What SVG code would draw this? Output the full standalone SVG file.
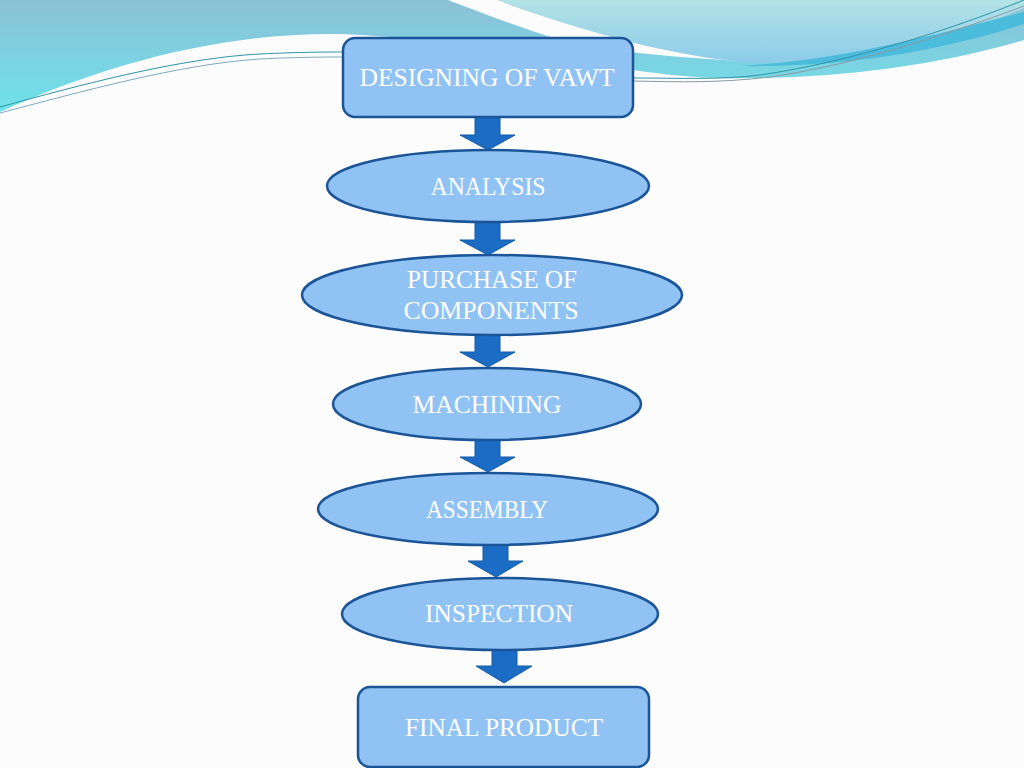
<svg xmlns="http://www.w3.org/2000/svg" width="1024" height="768" viewBox="0 0 1024 768">
<defs>
<linearGradient id="gLeft" x1="0" y1="0" x2="0" y2="1">
<stop offset="0" stop-color="#8cc0d6"/>
<stop offset="1" stop-color="#6ee2ea"/>
</linearGradient>
<linearGradient id="gRight" x1="0" y1="0" x2="0" y2="1">
<stop offset="0" stop-color="#b2e3e6"/>
<stop offset="1" stop-color="#8ccbe9"/>
</linearGradient>
<style>
.node{fill:#90c3f4;stroke:#1b5597;stroke-width:2.5}
.lbl{font-family:"Liberation Serif","DejaVu Serif",serif;font-size:26px;fill:#ffffff;text-anchor:middle}
.arrow{fill:#1a6cc4;stroke:#175aa3;stroke-width:1}
.thin{fill:none;stroke-width:1}
</style>
</defs>
<rect width="1024" height="768" fill="#fcfcfc"/>
<g id="background">
<path d="M0,0 H1024 V40 C930,68 820,80 720,78 C620,76 520,42 340,34 C220,32 100,66 0,112 Z" fill="url(#gLeft)"/>
<path d="M448,0 L498,0 C560,25 650,45 760,62 C680,58 610,52 560,40 C520,28 480,12 448,0 Z" fill="#fcfcfc"/>
<path d="M498,0 H1024 V8 C950,40 860,64 760,63 C680,60 570,28 498,0 Z" fill="url(#gRight)"/>
<path d="M740,66 C850,60 950,30 1024,12 V24 C950,48 850,68 740,66 Z" fill="#4cbcdc"/>
<path class="thin" stroke="#2f94a8" d="M0,107 C80,85 180,58 260,54 C300,52 330,52 345,52"/>
<path class="thin" stroke="#7fa9c0" d="M0,113 C80,92 180,64 260,59 C300,57 330,57 345,57"/>
<path class="thin" stroke="#2f94a8" d="M632,78 C680,78 720,80 760,75 C850,62 950,30 1024,0"/>
<path class="thin" stroke="#8a9aa5" d="M632,81 C680,82 720,83 770,77 C860,64 960,30 1024,6"/>
</g>
<g id="connectors">
<path class="arrow" d="M475,117 H500 V135 H515 L488,150 L460,135 H475 Z"/>
<path class="arrow" d="M475,222 H500 V240 H515 L488,255 L460,240 H475 Z"/>
<path class="arrow" d="M475,335 H500 V352 H515 L488,367 L460,352 H475 Z"/>
<path class="arrow" d="M475,440 H500 V457 H515 L488,472 L460,457 H475 Z"/>
<path class="arrow" d="M483,545 H508 V561 H523 L496,577 L468,561 H483 Z"/>
<path class="arrow" d="M492,650 H517 V666 H532 L504,683 L476,666 H492 Z"/>
</g>
<g id="n1">
<rect class="node" x="343" y="38" width="290" height="79" rx="12"/>
<text class="lbl" x="487" y="86" textLength="255" lengthAdjust="spacingAndGlyphs">DESIGNING OF VAWT</text>
</g>
<g id="n2">
<ellipse class="node" cx="488" cy="186" rx="161" ry="36"/>
<text class="lbl" x="488" y="195" textLength="115" lengthAdjust="spacingAndGlyphs">ANALYSIS</text>
</g>
<g id="n3">
<ellipse class="node" cx="492" cy="295" rx="190" ry="40"/>
<text class="lbl" x="492" y="288" textLength="170" lengthAdjust="spacingAndGlyphs">PURCHASE OF</text>
<text class="lbl" x="491" y="319" textLength="175" lengthAdjust="spacingAndGlyphs">COMPONENTS</text>
</g>
<g id="n4">
<ellipse class="node" cx="487" cy="404" rx="154" ry="36"/>
<text class="lbl" x="487" y="413" textLength="149" lengthAdjust="spacingAndGlyphs">MACHINING</text>
</g>
<g id="n5">
<ellipse class="node" cx="488" cy="509" rx="170" ry="36"/>
<text class="lbl" x="487" y="518" textLength="122" lengthAdjust="spacingAndGlyphs">ASSEMBLY</text>
</g>
<g id="n6">
<ellipse class="node" cx="500" cy="614" rx="158" ry="36"/>
<text class="lbl" x="499" y="622" textLength="148" lengthAdjust="spacingAndGlyphs">INSPECTION</text>
</g>
<g id="n7">
<rect class="node" x="358" y="687" width="291" height="80" rx="12"/>
<text class="lbl" x="504" y="736" textLength="198" lengthAdjust="spacingAndGlyphs">FINAL PRODUCT</text>
</g>
</svg>
